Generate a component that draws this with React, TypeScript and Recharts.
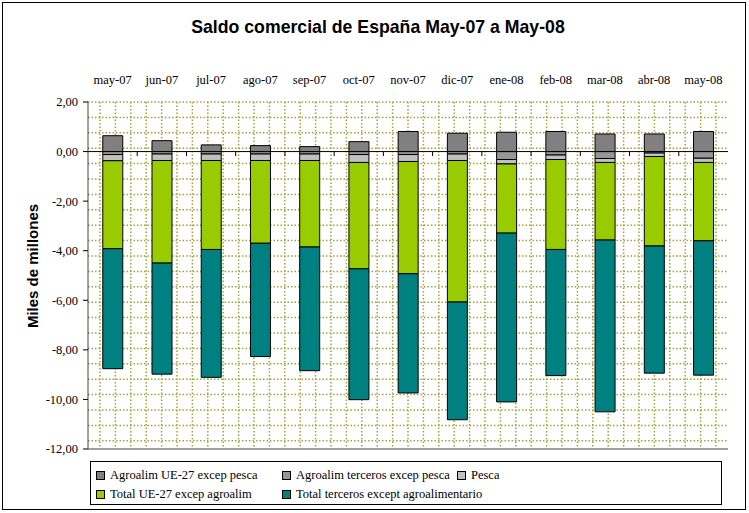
import React from "react";
import { Bar, BarChart, CartesianGrid, ReferenceLine, XAxis, YAxis } from "recharts";

const months = [
  "may-07", "jun-07", "jul-07", "ago-07", "sep-07", "oct-07", "nov-07",
  "dic-07", "ene-08", "feb-08", "mar-08", "abr-08", "may-08",
];

// miles de millones
const agroUE = [0.64, 0.44, 0.27, 0.24, 0.2, 0.4, 0.81, 0.74, 0.78, 0.81, 0.71, 0.71, 0.81];
const agroTerc = [-0.12, -0.1, -0.1, -0.1, -0.1, -0.12, -0.12, -0.1, -0.32, -0.14, -0.28, -0.06, -0.27];
const pesca = [-0.25, -0.26, -0.26, -0.26, -0.26, -0.32, -0.28, -0.26, -0.18, -0.18, -0.16, -0.14, -0.17];
const totalUE = [-3.55, -4.14, -3.59, -3.34, -3.49, -4.29, -4.53, -5.71, -2.79, -3.63, -3.13, -3.61, -3.16];
const totalTerc = [-4.84, -4.48, -5.16, -4.57, -4.99, -5.28, -4.81, -4.75, -6.81, -5.09, -6.93, -5.13, -5.42];

const yTicks = [2, 0, -2, -4, -6, -8, -10, -12];

const series = [
  { key: "agroUE", name: "Agroalim UE-27 excep pesca", color: "#808080" },
  { key: "agroTerc", name: "Agroalim terceros excep pesca", color: "#969696" },
  { key: "pesca", name: "Pesca", color: "#c0c0c0" },
  { key: "totalUE", name: "Total UE-27 excep agroalim", color: "#99cc00" },
  { key: "totalTerc", name: "Total terceros except agroalimentario", color: "#008080" },
];

const data = months.map((m, i) => ({
  month: m,
  agroUE: agroUE[i],
  agroTerc: agroTerc[i],
  pesca: pesca[i],
  totalUE: totalUE[i],
  totalTerc: totalTerc[i],
}));

const SERIF = "'Liberation Serif', 'Times New Roman', serif";
const SANS = "'Liberation Sans', Arial, sans-serif";
const GRID_STEP = 15.4;

function steps(start: number, end: number) {
  const out: number[] = [];
  for (let p = start; p <= end + 0.5; p += GRID_STEP) out.push(p);
  return out;
}

const MonthTick = ({ x, y, payload }: any) => (
  <text x={x} y={y - 18} textAnchor="middle" fontFamily={SERIF} fontSize={12.5} fill="#000">
    {payload.value}
  </text>
);

function LegendBox() {
  const item = (s: (typeof series)[number], left: number, top: number) => (
    <div key={s.key} style={{ position: "absolute", left, top, display: "flex", alignItems: "center", whiteSpace: "nowrap" }}>
      <span style={{ width: 7, height: 7, background: s.color, border: "1px solid #000", marginRight: 5 }} />
      <span>{s.name}</span>
    </div>
  );
  return (
    <div
      style={{
        position: "absolute", left: 90, top: 461, width: 632, height: 44,
        border: "1px solid #000", boxSizing: "border-box",
        fontFamily: SERIF, fontSize: 12.5, color: "#000",
      }}
    >
      {item(series[0], 5, 6)}
      {item(series[1], 191, 6)}
      {item(series[2], 366, 6)}
      {item(series[3], 5, 25)}
      {item(series[4], 191, 25)}
    </div>
  );
}

export default function App() {
  return (
    <div style={{ position: "absolute", left: 0, top: 0, width: 749, height: 513, background: "#fff" }}>
      <div
        style={{
          position: "absolute", left: 2, top: 2, width: 744, height: 508,
          border: "1px solid #000", boxSizing: "border-box",
        }}
      />
      <div
        style={{
          position: "absolute", left: 0, top: 17, width: 756, textAlign: "center",
          fontFamily: SANS, fontWeight: "bold", fontSize: 17.7, color: "#000",
        }}
      >
        Saldo comercial de España May-07 a May-08
      </div>
      <div
        style={{
          position: "absolute", left: 32, top: 266, transform: "translate(-50%, -50%) rotate(-90deg)",
          fontFamily: SANS, fontWeight: "bold", fontSize: 15, whiteSpace: "nowrap", color: "#000",
        }}
      >
        Miles de millones
      </div>

      <div style={{ position: "absolute", left: 0, top: 0 }}>
        <BarChart
          width={749}
          height={513}
          data={data}
          stackOffset="sign"
          barCategoryGap="30%"
          margin={{ top: 72, right: 21, bottom: 64, left: 28 }}
        >
          <CartesianGrid
            stroke="#a3a33c"
            strokeWidth={1.5}
            strokeDasharray="1.5 2"
            fill="#fff"
            horizontalCoordinatesGenerator={({ offset }: any) => steps(offset.top, offset.top + offset.height)}
            verticalCoordinatesGenerator={({ offset }: any) => steps(offset.left + 12, offset.left + offset.width - 2)}
          />
          <XAxis
            dataKey="month"
            orientation="top"
            height={30}
            axisLine={false}
            tickLine={false}
            tickSize={0}
            tickMargin={0}
            interval={0}
            tick={<MonthTick />}
          />
          <YAxis
            domain={[-12, 2]}
            ticks={yTicks}
            interval={0}
            width={60}
            allowDataOverflow
            axisLine={{ stroke: "#444" }}
            tickLine={{ stroke: "#000" }}
            tickSize={5}
            tickMargin={5}
            tickFormatter={(v: number) => v.toFixed(2).replace(".", ",")}
            tick={{ fontFamily: SERIF, fontSize: 12.5, fill: "#000" }}
          />
          {series.map((s) => (
            <Bar
              key={s.key}
              dataKey={s.key}
              name={s.name}
              stackId="a"
              fill={s.color}
              stroke="#000"
              strokeWidth={1}
              isAnimationActive={false}
            />
          ))}
          <ReferenceLine y={-12} stroke="#a0a0a0" strokeWidth={2} />
          <ReferenceLine x={months[months.length - 1]} position="end" stroke="#a0a0a0" strokeWidth={2} />
          <ReferenceLine y={0} stroke="#000" strokeWidth={1} />
          {months.slice(1).map((m) => (
            <ReferenceLine
              key={m}
              segment={[{ x: m, y: 0 }, { x: m, y: -0.18 }]}
              position="start"
              stroke="#000"
            />
          ))}
        </BarChart>
      </div>
      <LegendBox />
    </div>
  );
}
